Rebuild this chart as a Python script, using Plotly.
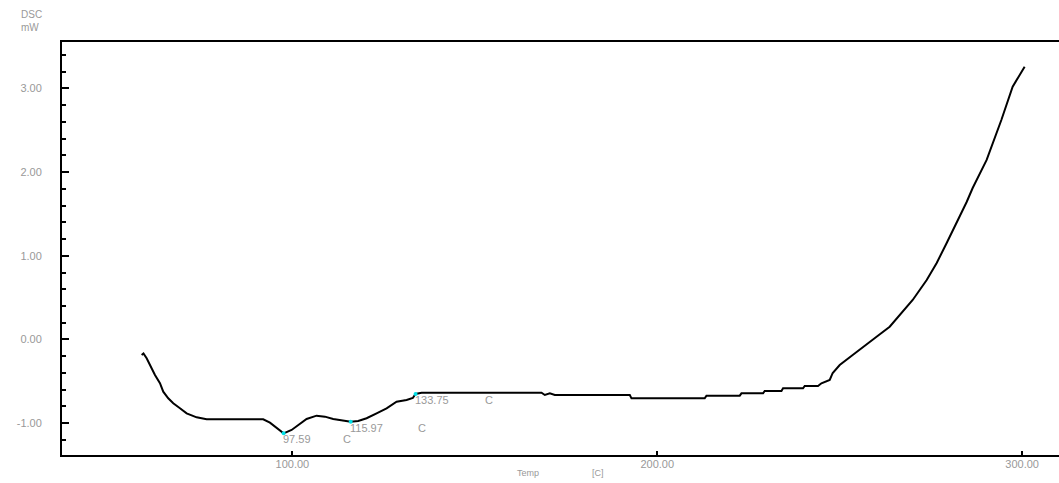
import plotly.graph_objects as go

# DSC heating curve: temperature [C] vs heat flow [mW]
temp = [58.68, 59.18, 60.05, 60.96, 62.33, 63.70, 64.60, 65.97, 67.34, 69.18,
        71.01, 73.75, 76.49, 82.88, 92.00, 93.84, 95.67, 97.59, 99.78, 101.59,
        103.89, 106.63, 108.90, 111.18, 113.92, 115.97, 118.03, 120.33, 123.07,
        125.81, 128.55, 131.29, 133.00, 133.75, 135.40, 168.27, 169.18, 170.55,
        171.92, 192.47, 192.93, 213.00, 213.48, 222.60, 223.07, 228.99, 229.45,
        234.03, 234.47, 239.95, 240.41, 244.05, 244.99, 247.26, 248.08, 250.00,
        253.56, 255.90, 258.22, 261.00, 263.70, 266.44, 270.00, 273.84, 276.58,
        279.32, 282.05, 284.79, 286.44, 288.90, 290.27, 294.30, 297.40, 300.68]
dsc = [-0.185, -0.167, -0.225, -0.305, -0.424, -0.523, -0.624, -0.703, -0.762, -0.822,
       -0.882, -0.930, -0.953, -0.953, -0.953, -0.994, -1.061, -1.121, -1.081, -1.022,
       -0.950, -0.910, -0.922, -0.950, -0.974, -0.983, -0.974, -0.941, -0.882,
       -0.822, -0.743, -0.723, -0.699, -0.651, -0.636, -0.636, -0.663, -0.643,
       -0.663, -0.663, -0.703, -0.703, -0.671, -0.671, -0.643, -0.643, -0.615,
       -0.615, -0.583, -0.583, -0.556, -0.556, -0.523, -0.484, -0.400, -0.305,
       -0.185, -0.110, -0.026, 0.062, 0.153, 0.293, 0.472, 0.711, 0.914,
       1.153, 1.392, 1.643, 1.810, 2.025, 2.145, 2.622, 3.020, 3.259]

# Peak temperatures picked on the curve
peak_temp = [97.59, 115.97, 133.75]
peak_dsc = [-1.121, -0.983, -0.651]
unit_offsets = [57, 65, 67]

y_ticks = [-1.0, 0.0, 1.0, 2.0, 3.0]
x_ticks = [100.0, 200.0, 300.0]

label_color = "#999999"
font_family = "Liberation Sans, Arial, sans-serif"

fig = go.Figure()
fig.add_trace(go.Scatter(x=temp, y=dsc, mode="lines",
                         line=dict(color="black", width=2),
                         hoverinfo="skip", showlegend=False))
fig.add_trace(go.Scatter(x=peak_temp, y=peak_dsc, mode="markers",
                         marker=dict(color="#00e0e8", size=4),
                         showlegend=False))

for t, d, off in zip(peak_temp, peak_dsc, unit_offsets):
    fig.add_annotation(x=t, y=d, text=f"{t:.2f}", showarrow=False,
                       xanchor="left", yanchor="top", xshift=-3, yshift=2,
                       font=dict(size=11, color=label_color, family=font_family))
    fig.add_annotation(x=t, y=d, text="C", showarrow=False,
                       xanchor="left", yanchor="top", xshift=off, yshift=2,
                       font=dict(size=11, color=label_color, family=font_family))

# Axis captions
fig.add_annotation(xref="paper", yref="paper", x=-0.043, y=1.085, text="DSC<br>mW",
                   showarrow=False, xanchor="left", yanchor="top", align="left",
                   font=dict(size=10, color=label_color, family=font_family))
fig.add_annotation(xref="paper", yref="paper", x=0.454, y=-0.026, text="Temp",
                   showarrow=False, xanchor="left", yanchor="top",
                   font=dict(size=9, color=label_color, family=font_family))
fig.add_annotation(xref="paper", yref="paper", x=0.53, y=-0.026, text="[C]",
                   showarrow=False, xanchor="left", yanchor="top",
                   font=dict(size=9, color=label_color, family=font_family))

fig.update_xaxes(range=[36.85, 310.1], showgrid=False, zeroline=False,
                 showline=True, linecolor="black", linewidth=2, mirror=True,
                 tickmode="array", tickvals=x_ticks,
                 ticktext=[f"{v:.2f}" for v in x_ticks],
                 ticks="inside", ticklen=4, tickwidth=2, tickcolor="black",
                 ticklabelstandoff=-2,
                 tickfont=dict(size=11, color=label_color, family=font_family))
fig.update_yaxes(range=[-1.38, 3.554], showgrid=False, zeroline=False,
                 showline=True, linecolor="black", linewidth=2, mirror=False,
                 tickmode="array", tickvals=y_ticks,
                 ticktext=[f"{v:.2f}" for v in y_ticks],
                 ticks="inside", ticklen=7, tickwidth=2, tickcolor="black",
                 ticklabelstandoff=16,
                 minor=dict(dtick=0.2, tick0=0, ticks="inside", ticklen=4,
                            tickwidth=2, tickcolor="black", showgrid=False),
                 tickfont=dict(size=11, color=label_color, family=font_family))

fig.update_layout(width=1059, height=483,
                  margin=dict(l=62, r=0, t=42, b=28),
                  plot_bgcolor="white", paper_bgcolor="white")

fig.write_html("out.html")
